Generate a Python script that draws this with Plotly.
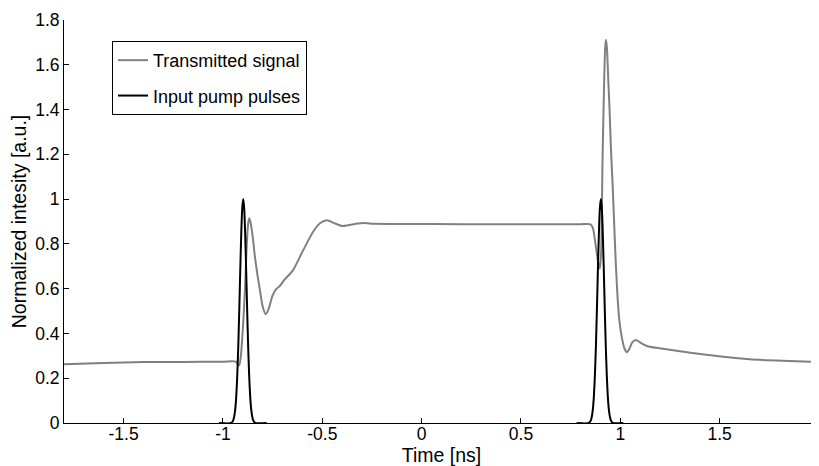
import plotly.graph_objects as go

# Transmitted signal (gray)
sig_t = [-1.80, -1.60, -1.40, -1.20, -1.00, -0.935, -0.925, -0.918, -0.910, -0.900,
         -0.889, -0.880, -0.873, -0.868, -0.862, -0.850, -0.839, -0.826, -0.814, -0.800,
         -0.785, -0.770, -0.750, -0.730, -0.714, -0.690, -0.647, -0.596, -0.546, -0.510,
         -0.476, -0.440, -0.400, -0.370, -0.320, -0.286, -0.240, -0.100, 0.200, 0.500,
         0.800, 0.850, 0.862, 0.875, 0.888, 0.897, 0.903, 0.911, 0.918, 0.924,
         0.928, 0.933, 0.940, 0.945, 0.953, 0.962, 0.970, 0.978, 0.987, 0.995,
         1.008, 1.020, 1.033, 1.045, 1.060, 1.079, 1.100, 1.137, 1.196, 1.363,
         1.531, 1.698, 1.850, 2.000]
sig_v = [0.262, 0.268, 0.272, 0.273, 0.274, 0.274, 0.262, 0.258, 0.300, 0.420,
         0.600, 0.800, 0.890, 0.915, 0.900, 0.830, 0.742, 0.660, 0.594, 0.520,
         0.486, 0.510, 0.570, 0.600, 0.612, 0.640, 0.683, 0.772, 0.854, 0.893,
         0.906, 0.893, 0.880, 0.883, 0.891, 0.893, 0.890, 0.889, 0.888, 0.888,
         0.888, 0.887, 0.870, 0.800, 0.720, 0.690, 0.750, 1.200, 1.500, 1.680,
         1.712, 1.670, 1.520, 1.420, 1.220, 1.050, 0.870, 0.700, 0.550, 0.460,
         0.380, 0.335, 0.316, 0.330, 0.360, 0.371, 0.360, 0.343, 0.334, 0.313,
         0.295, 0.282, 0.277, 0.273]

# Input pump pulses (black)
pump_t = [-1.020, -0.958, -0.948, -0.943, -0.938, -0.933, -0.928, -0.923, -0.918, -0.913,
          -0.908, -0.903, -0.898, -0.893, -0.888, -0.883, -0.878, -0.873, -0.868, -0.863,
          -0.858, -0.853, -0.848, -0.838, -0.780,
          None,
          0.780, 0.842, 0.852, 0.857, 0.862, 0.867, 0.872, 0.877, 0.882, 0.887,
          0.892, 0.897, 0.902, 0.907, 0.912, 0.917, 0.922, 0.927, 0.932, 0.937,
          0.942, 0.947, 0.952, 0.962, 1.015]
pump_v = [0.0, 0.0, 0.013, 0.030, 0.063, 0.120, 0.211, 0.339, 0.500, 0.678,
          0.841, 0.958, 1.000, 0.958, 0.841, 0.678, 0.500, 0.339, 0.211, 0.120,
          0.063, 0.030, 0.013, 0.0, 0.0,
          None,
          0.0, 0.0, 0.013, 0.030, 0.063, 0.120, 0.211, 0.339, 0.500, 0.678,
          0.841, 0.958, 1.000, 0.958, 0.841, 0.678, 0.500, 0.339, 0.211, 0.120,
          0.063, 0.030, 0.013, 0.0, 0.0]

x_ticks = [-1.5, -1, -0.5, 0, 0.5, 1, 1.5, 2]
x_labels = ["-1.5", "-1", "-0.5", "0", "0.5", "1", "1.5", "2"]
y_ticks = [0, 0.2, 0.4, 0.6, 0.8, 1.0, 1.2, 1.4, 1.6, 1.8]
y_labels = ["0", "0.2", "0.4", "0.6", "0.8", "1", "1.2", "1.4", "1.6", "1.8"]

FONT = "Liberation Sans, Arial, Helvetica, sans-serif"

fig = go.Figure()
fig.add_trace(go.Scatter(x=sig_t, y=sig_v, mode="lines", name="Transmitted signal",
                         legendgroup="a",
                         line=dict(color="#808080", width=2, shape="spline", smoothing=0.7)))
fig.add_trace(go.Scatter(x=pump_t, y=pump_v, mode="lines", name="Input pump pulses",
                         legendgroup="b", connectgaps=False,
                         line=dict(color="black", width=2, shape="spline", smoothing=0.6)))

# page body has an 8px default margin, so the figure is sized and offset for it
fig.update_layout(
    width=811, height=458,
    margin=dict(l=56, r=0, t=12, b=43),
    plot_bgcolor="white", paper_bgcolor="white",
    font=dict(family=FONT, size=17.5, color="black"),
    showlegend=True,
    legend=dict(x=0.0636, y=0.948, xanchor="left", yanchor="top",
                bordercolor="black", borderwidth=1, bgcolor="white",
                traceorder="grouped", tracegroupgap=9,
                font=dict(family=FONT, size=18, color="black")),
    xaxis=dict(range=[-1.8, 2.0], tickvals=x_ticks, ticktext=x_labels,
               ticks="inside", ticklen=5, tickcolor="black",
               ticklabelstandoff=-5,
               showline=True, linecolor="black", linewidth=1,
               showgrid=False, zeroline=False, mirror=False,
               title=dict(text="Time [ns]", standoff=1, font=dict(size=19.5)),
               automargin=False),
    yaxis=dict(range=[0, 1.8], tickvals=y_ticks, ticktext=y_labels,
               ticks="inside", ticklen=5, tickcolor="black",
               showline=True, linecolor="black", linewidth=1,
               showgrid=False, zeroline=False, mirror=False,
               title=dict(text="Normalized intesity [a.u.]", standoff=4, font=dict(size=19.5)),
               automargin=False),
)

fig.write_html("out.html")
